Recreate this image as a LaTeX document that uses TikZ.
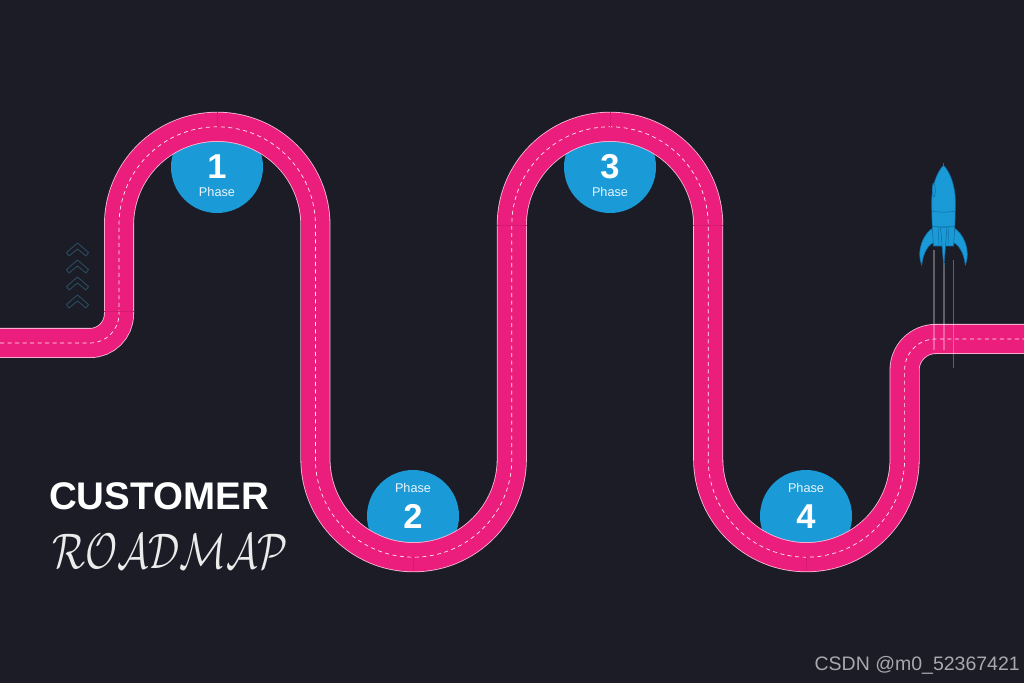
\documentclass[tikz,border=0pt]{standalone}
\usepackage{fontspec}
\setmainfont{Liberation Sans}
\usetikzlibrary{positioning,calc}
\definecolor{bgdark}{HTML}{1B1C26}
\definecolor{roadpink}{HTML}{EC1E7D}
\definecolor{roadedge}{HTML}{F9BFD8}
\definecolor{badgeblue}{HTML}{1A9BD7}
\definecolor{rocketline}{HTML}{0F6FA6}
\definecolor{chevcol}{HTML}{2B4C60}
\tikzset{
  badge/.style={circle,fill=badgeblue,inner sep=0pt,minimum size=92pt},
  numtxt/.style={font=\fontsize{34.5}{34}\bfseries\selectfont,text=white,inner sep=0pt},
  phstxt/.style={font=\fontsize{12.7}{13}\selectfont,text=white!90!badgeblue,inner sep=0pt},
  seam/.style={draw=roadpink!90!black,line width=0.4pt},
  trail/.style={draw=white,opacity=0.3,line width=1.2pt},
  rocketpart/.style={fill=badgeblue,draw=rocketline,line width=0.6pt,line join=round},
  chev/.style={draw=chevcol,line width=0.9pt,line join=round},
}
\newcommand{\roadpath}{(0,340) -- (90,340) arc[start angle=-90,end angle=0,radius=29]
  -- (119,458) arc[start angle=180,end angle=0,radius=98.2]
  -- (315.4,224) arc[start angle=180,end angle=360,radius=98.2]
  -- (511.8,458) arc[start angle=180,end angle=0,radius=98.2]
  -- (708.2,224) arc[start angle=180,end angle=360,radius=98.2]
  -- (904.6,313) arc[start angle=180,end angle=90,radius=31] -- (1024,344)}
\begin{document}
\begin{tikzpicture}[x=1pt,y=1pt]
  \useasboundingbox (0,0) rectangle (1024,683);
  \clip (0,0) rectangle (1024,683);
  \fill[bgdark] (0,0) rectangle (1024,683);
  % badges go under the road
  \node[badge] (bad1) at (217,516) {};
  \node[badge] (bad2) at (413,167) {};
  \node[badge] (bad3) at (610,516) {};
  \node[badge] (bad4) at (806,167) {};
  % road
  \draw[roadedge,line width=30pt] \roadpath;
  \draw[roadpink,line width=28.4pt] \roadpath;
  \draw[white!92!roadpink,line width=0.7pt,dash pattern=on 4pt off 3.5pt] \roadpath;
  % seams
  \draw[seam] (217,571) -- (217,556);
  \draw[seam] (610,571) -- (610,556);
  \draw[seam] (413,112) -- (413,127);
  \draw[seam] (806,112) -- (806,127);
  \draw[seam] (104,372) -- (134,372);
  \draw[seam] (497,458) -- (527,458);
  \draw[seam] (693,458) -- (723,458);
  % labels
  \node[numtxt] (num1) at (217,516) {1};
  \node[phstxt] (phs1) at (217,491) {Phase};
  \node[phstxt] (phs2) at (413,195.5) {Phase};
  \node[numtxt] (num2) at (413,166.5) {2};
  \node[numtxt] (num3) at (610,516) {3};
  \node[phstxt] (phs3) at (610,491) {Phase};
  \node[phstxt] (phs4) at (806,195.5) {Phase};
  \node[numtxt] (num4) at (806,166.5) {4};
  % chevrons
  \foreach \yy in {440,423,406,388}
    \draw[chev] (77.5,\yy) -- ++(11,-9.5) -- ++(-2.5,-3.5) -- ++(-8.5,7) -- ++(-8.5,-7) -- ++(-2.5,3.5) -- cycle;
  % rocket
  \coordinate (tr1a) at (934,433);
  \coordinate (tr1b) at (934,333);
  \coordinate (tr2a) at (944,420);
  \coordinate (tr2b) at (944,333);
  \coordinate (tr3a) at (953,423);
  \coordinate (tr3b) at (953,315);
  \draw[trail] (tr1a) -- (tr1b);
  \draw[trail] (tr2a) -- (tr2b);
  \draw[trail,line width=0.9pt] (tr3a) -- (tr3b);
  \fill[rocketpart] (934.5,456) .. controls (923,450) and (916,432) .. (921.7,417.7) .. controls (923,431) and (929,440) .. (936,441) -- cycle;
  \fill[rocketpart] (952.5,456) .. controls (964,450) and (971,432) .. (965.3,417.7) .. controls (964,431) and (958,440) .. (951,441) -- cycle;
  \fill[rocketpart] (943.5,517.7) .. controls (951,510) and (955.3,495) .. (955.3,482) .. controls (955.3,465) and (954.5,450) .. (953.5,437) -- (933.5,437) .. controls (932.5,450) and (931.7,465) .. (931.7,482) .. controls (931.7,495) and (936,510) .. cycle;
  \fill[rocketpart] (933.2,500) .. controls (931.5,495) and (932,488) .. (934,486) .. controls (936,490) and (936,497) .. cycle;
  \fill[rocketpart] (940.5,456) -- (943.8,416.5) -- (947,456) -- cycle;
  \draw[rocketline,line width=0.6pt] (932,472) .. controls (938,470.5) and (949,470.5) .. (955,472);
  \draw[rocketline,line width=0.6pt] (932.5,457) .. controls (938,455.5) and (949,455.5) .. (954.5,457);
  \draw[rocketline,line width=0.5pt] (943.5,517) -- (943.5,520);
  \draw[rocketline,line width=0.5pt] (938,457) -- (939,438);
  \draw[rocketline,line width=0.5pt] (949,457) -- (948,438);
  % title
  \node[font=\fontsize{38.5}{38}\bfseries\selectfont,text=white,anchor=west,inner sep=0pt] (ttl) at (49,187) {CUSTOMER};
  \node[text=white!92!black,inner sep=0pt,xscale=3.9,yscale=5] (rdm) at (170,132) {$\mathcal{ROADMAP}$};
  % watermark
  \node[font=\fontsize{19.5}{19}\selectfont,text=white!62!bgdark,anchor=east,inner sep=0pt] (wmk) at (1020,18) {CSDN @m0\_52367421};
\end{tikzpicture}
\end{document}
